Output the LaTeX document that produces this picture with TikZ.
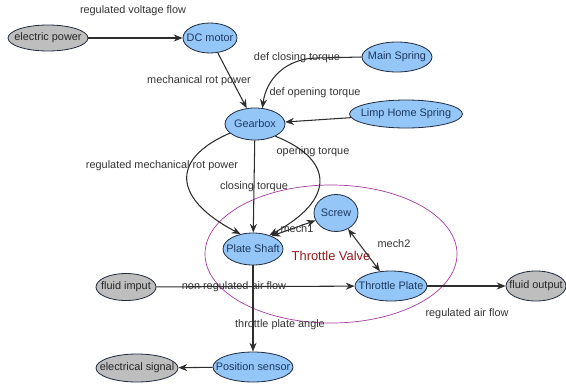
\documentclass[tikz,border=0pt]{standalone}
\usepackage{fontspec}
\setmainfont{Liberation Sans}
\definecolor{partblue}{RGB}{148, 199, 248}
\definecolor{extgray}{RGB}{190, 190, 190}
\definecolor{nodeline}{RGB}{35, 45, 65}
\definecolor{nodetext}{RGB}{30, 55, 95}
\definecolor{edgegray}{RGB}{45, 45, 45}
\definecolor{valvepurple}{RGB}{165, 60, 160}
\definecolor{valvered}{RGB}{150, 25, 30}
\usepackage{tikz}
\usetikzlibrary{shapes.geometric, arrows.meta, positioning, calc}
\newcommand{\pxu}{0.03cm}

\begin{document}
\begin{tikzpicture}[x=0.03cm, y=-0.03cm,
  dims/.style 2 args={minimum width=#1*\pxu, minimum height=#2*\pxu},
  part/.style={ellipse, draw=nodeline, fill=partblue, line width=0.7pt, inner xsep=-10pt, inner ysep=0pt, text=nodetext, font=\fontsize{9.3}{11}\selectfont},
  ext/.style={part, fill=extgray, text=black!85},
  flow/.style={draw=edgegray, line width=0.9pt, -{Stealth[length=7.5pt, width=6pt]}},
  both/.style={{Stealth[length=7.5pt, width=6pt]}-{Stealth[length=7.5pt, width=6pt]}},
  lbl/.style={font=\fontsize{9.3}{11}\selectfont, text=black!80, inner sep=1pt}]
  \useasboundingbox (0,0) rectangle (566,383);

  % Throttle valve boundary
  \node[ellipse, draw=valvepurple, line width=0.6pt, dims={252}{138}] (valve) at (331,254) {};
  \node[font=\fontsize{11}{13}\selectfont, text=valvered] (valvelbl) at (331,256) {Throttle Valve};

  % Outside world
  \node[ext, dims={80}{26}] (elec) at (48,38) {electric power};
  \node[ext, dims={60}{27}] (fin) at (126,287) {fluid imput};
  \node[ext, dims={60}{30}] (fout) at (536,286) {fluid output};
  \node[ext, dims={82}{28}] (esig) at (137,368) {electrical signal};

  % Parts
  \node[part, dims={54}{30}] (motor) at (210,38) {DC motor};
  \node[part, dims={70}{30}] (mspring) at (397,57) {Main Spring};
  \node[part, dims={113}{28}] (lhspring) at (406,114) {Limp Home Spring};
  \node[part, dims={60}{32}] (gearbox) at (255,124) {Gearbox};
  \node[part, dims={60}{32}] (shaft) at (253,249) {Plate Shaft};
  \node[part, dims={44}{37}] (screw) at (336,213) {Screw};
  \node[part, dims={72}{30}] (tplate) at (391,286) {Throttle Plate};
  \node[part, dims={80}{30}] (possens) at (253,367) {Position sensor};

  % Drive chain
  \draw[flow] (elec) -- (motor) node[lbl] at (133,11) {regulated voltage flow};
  \draw[flow] (motor) -- (gearbox) node[lbl] at (199,81) {mechanical rot power};
  \draw[flow] (mspring.west) -- (318,58) .. controls (285,58) and (266,80) .. (gearbox.65)
    node[lbl] at (297,58) {def closing torque};
  \draw[flow] (lhspring) -- (gearbox) node[lbl] at (315,93) {def opening torque};

  % Gearbox to shaft
  \draw[flow] (gearbox.200) .. controls (168,160) and (175,200) .. (shaft.130)
    node[lbl] at (162,166) {regulated mechanical rot power};
  \draw[flow] (gearbox) -- (shaft) node[lbl] at (254,187) {closing torque};
  \draw[flow] (gearbox.-31) .. controls (335,160) and (335,200) .. (shaft.40)
    node[lbl] at (313,152) {opening torque};

  % Inside the valve
  \draw[flow, both] (shaft.35) -- (screw.200) node[lbl] at (297,229) {mech1};
  \draw[flow, both] (screw) -- (tplate) node[lbl] at (394,244) {mech2};

  % Air and signal
  \draw[flow] (fin) -- (tplate) node[lbl] at (234,287) {non regulated air flow};
  \draw[flow] (tplate) -- (fout) node[lbl] at (467,314) {regulated air flow};
  \draw[flow] (shaft) -- (possens) node[lbl] at (280,325) {throttle plate angle};
  \draw[flow] (possens) -- (esig);
\end{tikzpicture}
\end{document}
